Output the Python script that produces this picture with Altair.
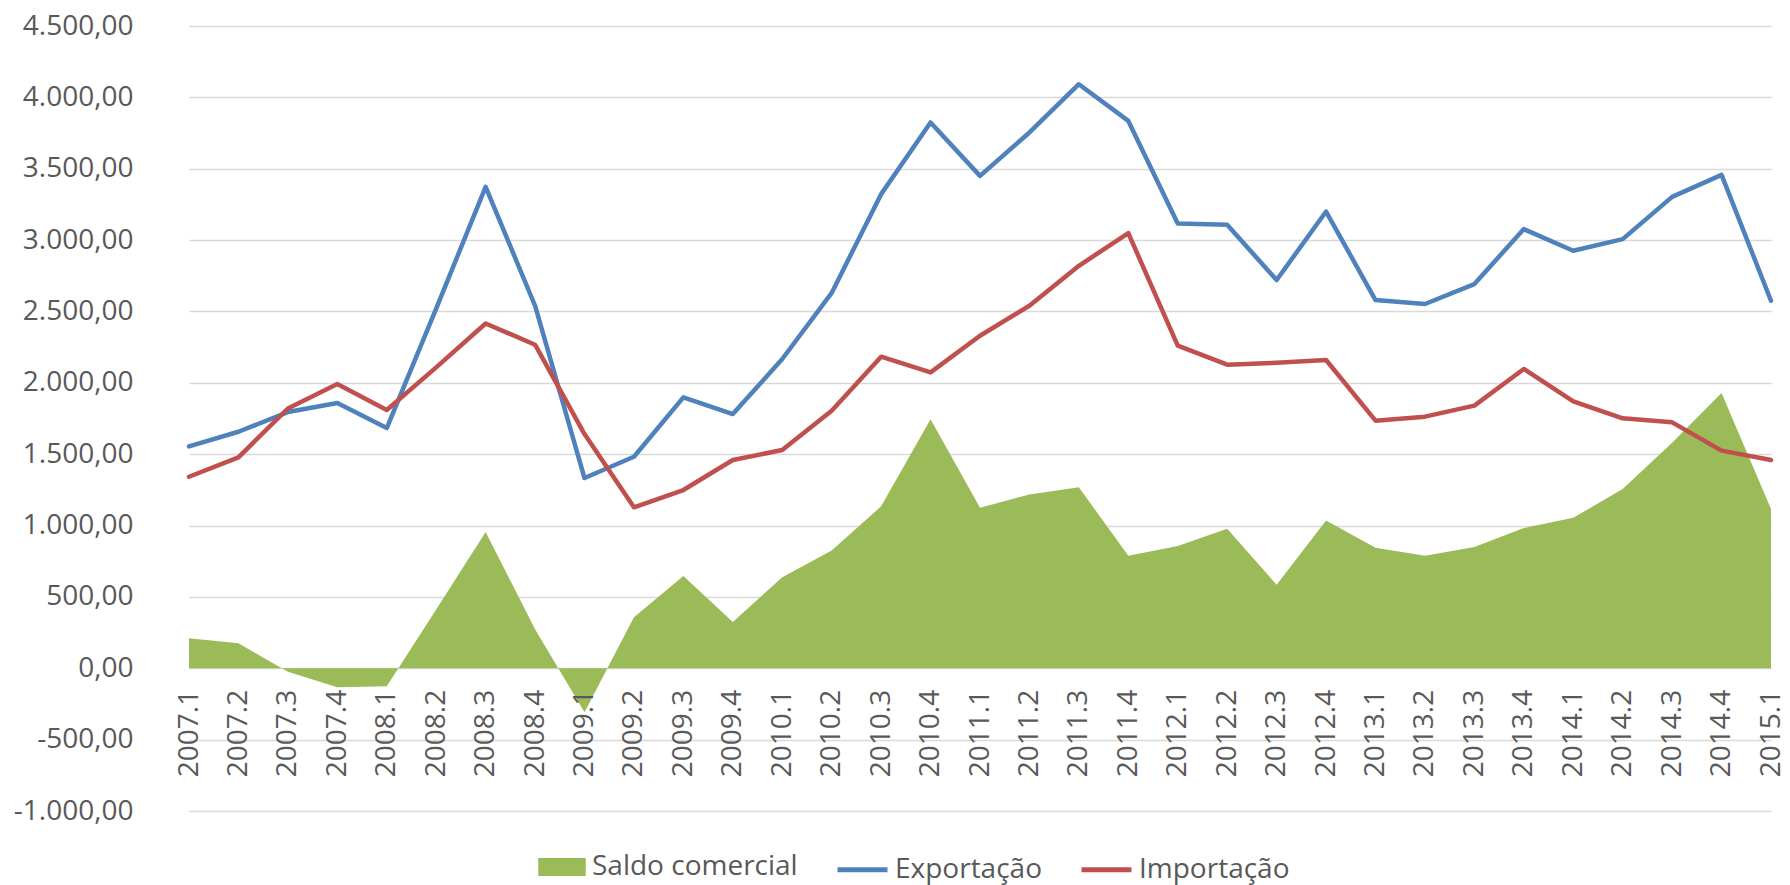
import altair as alt
import pandas as pd

quarters = [
    "2007.1", "2007.2", "2007.3", "2007.4",
    "2008.1", "2008.2", "2008.3", "2008.4",
    "2009.1", "2009.2", "2009.3", "2009.4",
    "2010.1", "2010.2", "2010.3", "2010.4",
    "2011.1", "2011.2", "2011.3", "2011.4",
    "2012.1", "2012.2", "2012.3", "2012.4",
    "2013.1", "2013.2", "2013.3", "2013.4",
    "2014.1", "2014.2", "2014.3", "2014.4",
    "2015.1",
]

saldo = [210, 175, -25, -133, -126, 412, 955, 273, -308, 358, 646, 325,
         637, 825, 1135, 1745, 1124, 1218, 1268, 788, 856, 978, 585, 1035,
         844, 788, 850, 982, 1054, 1256, 1580, 1928, 1116]

exportacao = [1555, 1657, 1795, 1858, 1683, 2520, 3373, 2540, 1333, 1482, 1898, 1781,
              2167, 2630, 3322, 3824, 3450, 3754, 4092, 3835, 3116, 3107, 2720, 3200,
              2580, 2552, 2692, 3077, 2925, 3007, 3303, 3457, 2575]

importacao = [1342, 1478, 1820, 1992, 1810, 2108, 2416, 2267, 1641, 1128, 1249, 1459,
              1529, 1805, 2183, 2073, 2330, 2540, 2820, 3049, 2260, 2127, 2141, 2160,
              1735, 1763, 1840, 2097, 1870, 1751, 1723, 1525, 1459]

series_names = ["Saldo comercial", "Exportação", "Importação"]
series_colors = ["#9BBB59", "#4F81BD", "#C0504D"]
y_ticks = [-1000, -500, 0, 500, 1000, 1500, 2000, 2500, 3000, 3500, 4000, 4500]

rows = []
for name, vals in zip(series_names, [saldo, exportacao, importacao]):
    for q, v in zip(quarters, vals):
        rows.append({"quarter": q, "series": name, "value": v})
df = pd.DataFrame(rows)

FONT = "Open Sans"
TXT = "#595959"
W, H = 1618, 785
Y_MIN, Y_MAX = -1000, 4500
zero_offset = -H * (0 - Y_MIN) / (Y_MAX - Y_MIN)

area_name = series_names[0]
line_names = series_names[1:]

common_legend = dict(
    title=None,
    orient="none",
    direction="horizontal",
    symbolSize=2500,
    labelFont=FONT,
    labelFontSize=28,
    labelColor=TXT,
    labelLimit=500,
    padding=0,
    symbolOpacity=1,
)

area_legend = alt.Legend(
    legendX=373, legendY=816,
    symbolType="M-0.95,-0.36H0.95V0.36H-0.95Z",
    symbolStrokeWidth=0,
    labelOffset=5,
    columnPadding=29,
    **common_legend,
)

line_legend = alt.Legend(
    legendX=671, legendY=816,
    symbolType="stroke",
    symbolStrokeWidth=5,
    labelOffset=5,
    columnPadding=29,
    **common_legend,
)

x_enc = alt.X(
    "quarter:O",
    sort=quarters,
    scale=alt.Scale(type="point", range=[25, 1607], padding=0),
    axis=alt.Axis(
        title=None,
        labelAngle=-90,
        labelFont=FONT,
        labelFontSize=28,
        labelColor=TXT,
        ticks=False,
        tickSize=0,
        domain=False,
        grid=False,
        labelPadding=21,
        labelOverlap=False,
        offset=zero_offset,
        zindex=1,
    ),
)

y_axis = alt.Axis(
    title=None,
    values=y_ticks,
    format=",.2f",
    labelFont=FONT,
    labelFontSize=28,
    labelColor=TXT,
    labelPadding=31,
    ticks=False,
    domain=False,
    gridColor="#D9D9D9",
    gridWidth=1.5,
)
y_scale = alt.Scale(domain=[Y_MIN, Y_MAX], nice=False, zero=False)

base = alt.Chart(df)

area = base.transform_filter(alt.datum.series == area_name).mark_area(opacity=1).encode(
    x=x_enc,
    y=alt.Y("value:Q", stack=None, scale=y_scale, axis=y_axis),
    y2=alt.datum(0),
    fill=alt.Fill("series:N", scale=alt.Scale(domain=[area_name], range=[series_colors[0]]), legend=area_legend),
)

lines = base.transform_filter(alt.datum.series != area_name).mark_line(
    strokeWidth=4.5, strokeJoin="round", strokeCap="round"
).encode(
    x=x_enc,
    y=alt.Y("value:Q", scale=y_scale, axis=y_axis),
    stroke=alt.Stroke("series:N", scale=alt.Scale(domain=line_names, range=series_colors[1:]), legend=line_legend),
)

chart = alt.layer(area, lines).resolve_scale(fill="independent", stroke="independent").properties(
    width=W,
    height=H,
    padding={"left": 156, "top": 18, "right": 0, "bottom": 74},
    autosize=alt.AutoSizeParams(type="none"),
).configure(
    locale={"number": {"decimal": ",", "thousands": ".", "grouping": [3],
                       "currency": ["R$", ""], "minus": "-"}}
).configure_view(stroke=None)

chart.save("out.html", embed_options={"renderer": "svg", "actions": False})
